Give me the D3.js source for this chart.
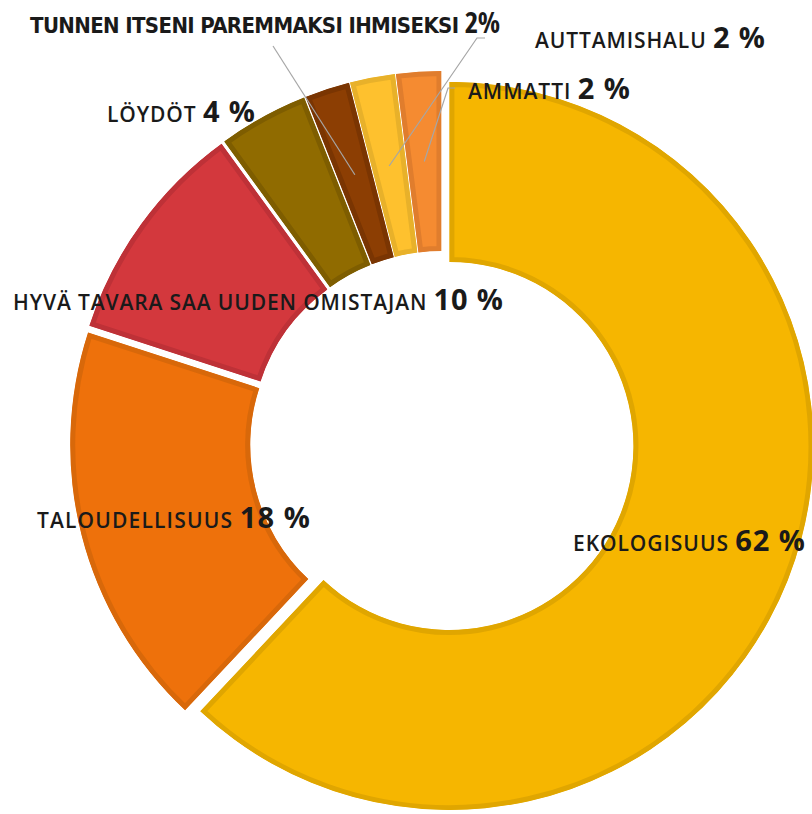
<!DOCTYPE html>
<html>
<head>
<meta charset="utf-8">
<script src="https://cdn.jsdelivr.net/npm/d3@7"></script>
<style>
  body { margin: 0; background: #fff; }
</style>
</head>
<body>
<script>
// Data
const categories = [
    "EKOLOGISUUS",
    "TALOUDELLISUUS",
    "HYVÄ TAVARA SAA UUDEN OMISTAJAN",
    "LÖYDÖT",
    "TUNNEN ITSENI PAREMMAKSI IHMISEKSI",
    "AUTTAMISHALU",
    "AMMATTI "
];
const values = [62, 18, 10, 4, 2, 2, 2];
const valueLabels = ["62 %", "18 %", "10 %", "4 %", "2%", "2 %", "2 %"];
const fills = ["#F6B600", "#EE710B", "#D3383D", "#906B00", "#8C3E03", "#FEC12E", "#F58B31"];
const borders = ["#E0A600", "#D8680A", "#BE3137", "#7E5D00", "#7A3502", "#E8B12A", "#E07D2D"];

// Layout config
const width = 812;
const height = 814;
const cx = 442, cy = 443;
const outer = 364, inner = 184;
const explode = 8;
const borderWidth = 5;

// label boxes: left x, baseline y, total width
const labelLayout = [
    { x: 573, y: 551, w: 232 },
    { x: 37, y: 528, w: 273 },
    { x: 13, y: 310, w: 490 },
    { x: 107, y: 122, w: 148 },
    { x: 30, y: 33, w: 470, condensed: true },
    { x: 535, y: 48, w: 230 },
    { x: 468, y: 99, w: 162 }
];
// leader line start points for labels placed away from their slice
const leaders = {
    4: [[273, 46]],
    5: [[485, 38], [477, 38]],
    6: [[455, 88], [448, 88]]
};

const svg = d3.select("body")
    .append("svg")
    .attr("width", width)
    .attr("height", height)
    .attr("viewBox", [0, 0, width, height]);

const pie = d3.pie().sort(null).value(d => d.value);
const arcs = pie(categories.map((name, i) => ({ name, value: values[i] })));
const arc = d3.arc().innerRadius(inner).outerRadius(outer);

// every slice is pushed out a little along its mid angle
function shift(d) {
    const a = (d.startAngle + d.endAngle) / 2;
    return [cx + explode * Math.sin(a), cy - explode * Math.cos(a)];
}

svg.append("defs")
    .selectAll("clipPath")
    .data(arcs)
    .join("clipPath")
    .attr("id", (d, i) => `clip-${i}`)
    .append("path")
    .attr("d", arc);

const slice = svg.selectAll("g.slice")
    .data(arcs)
    .join("g")
    .attr("class", "slice")
    .attr("transform", d => `translate(${shift(d)})`);

// border drawn inside the slice: double width stroke, clipped to the slice
slice.append("path")
    .attr("d", arc)
    .attr("fill", (d, i) => fills[i])
    .attr("stroke", (d, i) => borders[i])
    .attr("stroke-width", borderWidth * 2)
    .attr("clip-path", (d, i) => `url(#clip-${i})`);

// leader lines
const line = d3.line();
Object.entries(leaders).forEach(([i, pts]) => {
    const d = arcs[+i];
    const [sx, sy] = shift(d);
    const [px, py] = arc.centroid(d);
    svg.append("path")
        .attr("d", line([...pts, [sx + px, sy + py]]))
        .attr("fill", "none")
        .attr("stroke", "#A6A6A6")
        .attr("stroke-width", 1.2);
});

// labels
const label = svg.selectAll("text.label")
    .data(arcs)
    .join("text")
    .attr("class", "label")
    .attr("x", (d, i) => labelLayout[i].x)
    .attr("y", (d, i) => labelLayout[i].y)
    .attr("fill", "#1A1A1A")
    .attr("font-family", (d, i) => labelLayout[i].condensed
        ? "'DejaVu Sans Condensed', 'DejaVu Sans', sans-serif"
        : "'Open Sans', sans-serif")
    .attr("font-stretch", (d, i) => labelLayout[i].condensed ? "condensed" : null);

label.append("tspan")
    .attr("font-size", (d, i) => labelLayout[i].condensed ? 22 : 21)
    .attr("font-weight", (d, i) => labelLayout[i].condensed ? 700 : 600)
    .text(d => d.data.name + " ");

label.append("tspan")
    .attr("font-size", 29)
    .attr("font-weight", 700)
    .attr("font-family", "'Open Sans', sans-serif")
    .text((d, i) => valueLabels[i]);

label.attr("textLength", (d, i) => labelLayout[i].w)
    .attr("lengthAdjust", "spacing");
</script>
</body>
</html>
